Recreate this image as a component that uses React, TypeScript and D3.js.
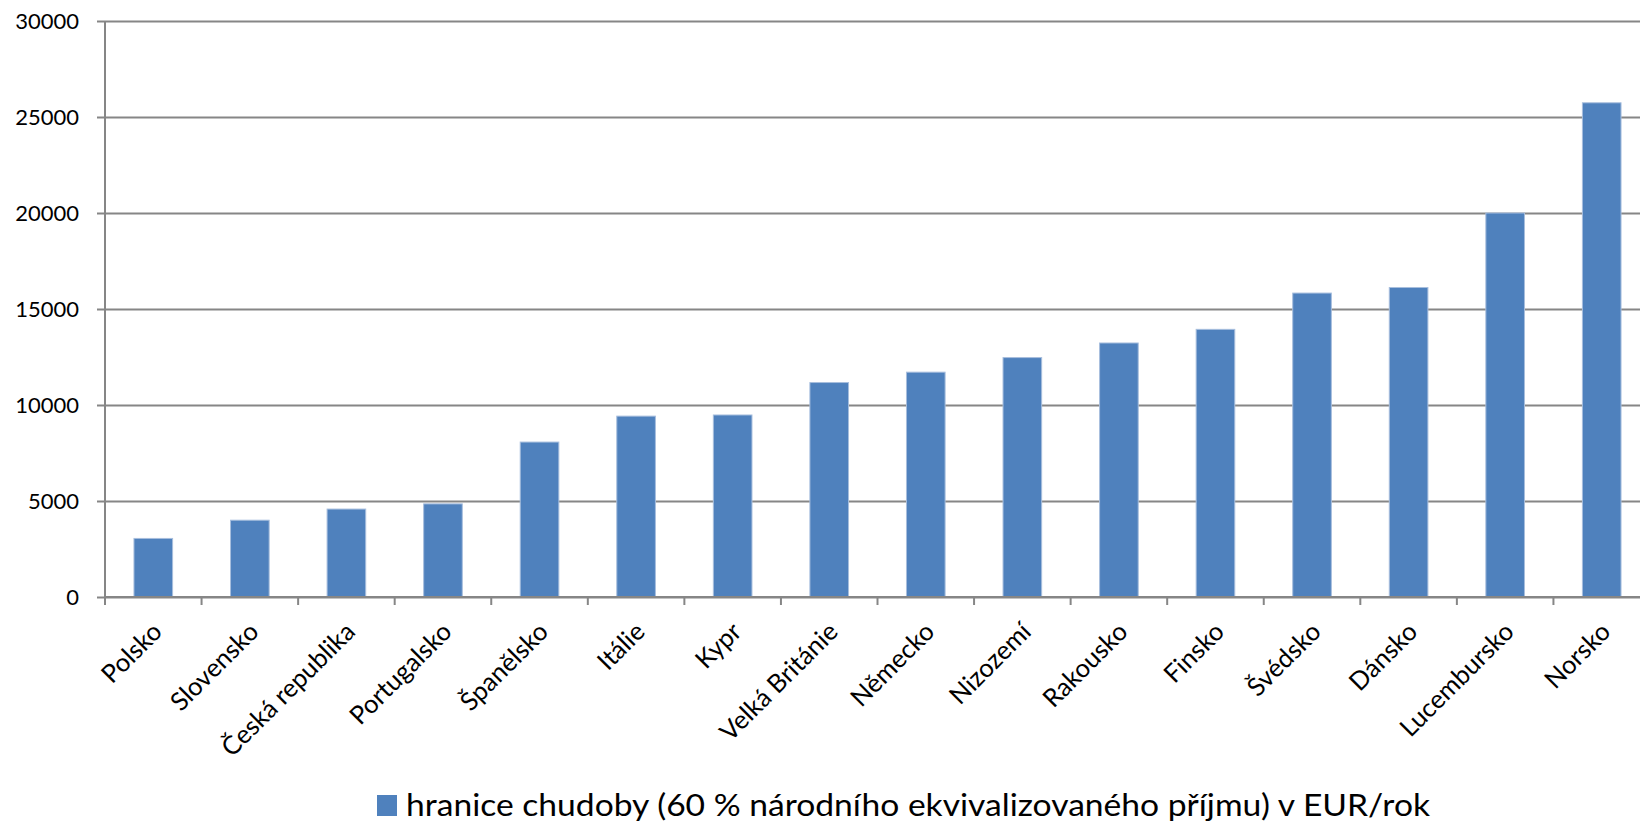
import * as d3 from "d3";
import { useEffect, useRef } from "react";

const countries = [
  "Polsko", "Slovensko", "Česká republika", "Portugalsko", "Španělsko", "Itálie",
  "Kypr", "Velká Británie", "Německo", "Nizozemí", "Rakousko", "Finsko",
  "Švédsko", "Dánsko", "Lucembursko", "Norsko",
];
const values = [
  3050, 4000, 4580, 4850, 8070, 9420, 9480, 11170, 11710, 12470, 13230, 13940,
  15830, 16120, 20000, 25740,
];
const yTicks = [0, 5000, 10000, 15000, 20000, 25000, 30000];
const legendLabel = "hranice chudoby (60 % národního ekvivalizovaného příjmu) v EUR/rok";

export default function App() {
  const ref = useRef<SVGSVGElement>(null);

  useEffect(() => {
    const svg = d3.select(ref.current);
    svg.selectAll("*").remove();

    const width = 1640,
      height = 824;
    const left = 105,
      right = 1650,
      top = 21,
      bottom = 597;
    const font = "Lato, 'Open Sans', sans-serif";
    const grey = "#868686";

    const x = d3.scaleBand().domain(countries).range([left, right]).paddingInner(0).paddingOuter(0);
    const y = d3.scaleLinear().domain([0, 30000]).range([bottom, top]);

    // gridlines + y ticks
    const yAxis = d3
      .axisLeft(y)
      .tickValues(yTicks)
      .tickSize(-(width - left))
      .tickPadding(18)
      .tickFormat((d) => String(d));
    const gy = svg.append("g").attr("transform", `translate(${left},0)`).call(yAxis);
    gy.select(".domain").remove();
    gy.selectAll(".tick line").attr("stroke", grey).attr("stroke-width", 2).attr("x1", -8);
    gy.selectAll(".tick text")
      .attr("font-family", font)
      .attr("font-size", 22)
      .attr("fill", "#000")
      .attr("x", -26);

    // y axis line
    svg.append("line")
      .attr("x1", left).attr("x2", left)
      .attr("y1", top).attr("y2", bottom + 8)
      .attr("stroke", grey).attr("stroke-width", 2);

    // bars
    const bw = x.bandwidth() / 2.5;
    svg.append("g")
      .selectAll("rect")
      .data(values)
      .join("rect")
      .attr("x", (d, i) => (x(countries[i]) as number) + x.bandwidth() / 2 - bw / 2)
      .attr("y", (d) => y(d))
      .attr("width", bw)
      .attr("height", (d) => y(0) - y(d))
      .attr("fill", "#4F81BD")
      .attr("stroke", "#A7BEDD")
      .attr("stroke-width", 1);

    // x axis
    svg.append("line")
      .attr("x1", left).attr("x2", width)
      .attr("y1", bottom).attr("y2", bottom)
      .attr("stroke", grey).attr("stroke-width", 2);
    svg.append("g")
      .selectAll("line")
      .data(d3.range(countries.length + 1))
      .join("line")
      .attr("x1", (i) => left + i * x.step())
      .attr("x2", (i) => left + i * x.step())
      .attr("y1", bottom)
      .attr("y2", bottom + 8)
      .attr("stroke", grey)
      .attr("stroke-width", 2);

    svg.append("g")
      .selectAll("text")
      .data(countries)
      .join("text")
      .attr("transform", (d) => `translate(${(x(d) as number) + x.bandwidth() / 2 + 4},${bottom + 30}) rotate(-45)`)
      .attr("text-anchor", "end")
      .attr("dy", "0.35em")
      .attr("font-family", font)
      .attr("font-size", 25.5)
      .text((d) => d);

    // legend
    svg.append("rect")
      .attr("x", 377).attr("y", 795)
      .attr("width", 20).attr("height", 21)
      .attr("fill", "#4F81BD");
    svg.append("text")
      .attr("x", 406).attr("y", 816)
      .attr("font-family", font)
      .attr("font-size", 31)
      .attr("textLength", 1024)
      .attr("lengthAdjust", "spacingAndGlyphs")
      .text(legendLabel);
  }, []);

  return (
    <svg
      ref={ref}
      width={1640}
      height={824}
      style={{ position: "absolute", left: 0, top: 0, background: "#fff" }}
    ></svg>
  );
}
